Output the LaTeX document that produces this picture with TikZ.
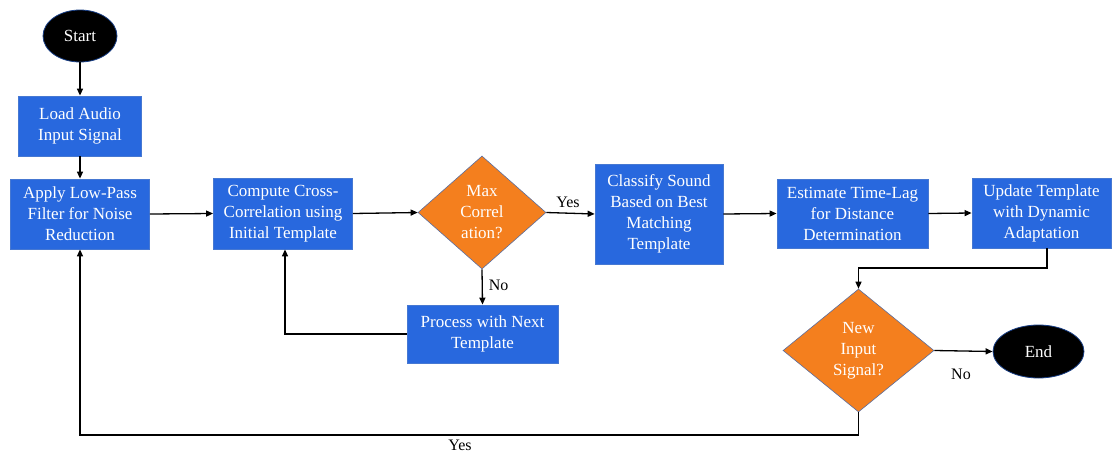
\documentclass[tikz,border=0pt]{standalone}
\usepackage{fontspec}
\setmainfont{Liberation Serif}
\usetikzlibrary{shapes.geometric,arrows.meta}
\definecolor{boxblue}{RGB}{40,104,222}
\definecolor{boxedge}{RGB}{70,120,210}
\definecolor{decor}{RGB}{244,127,30}
\definecolor{decedge}{RGB}{90,110,160}
\tikzset{
  txt/.style={font=\fontsize{17}{21}\selectfont, text=white, align=center, inner sep=0pt},
  procbox/.style={txt, rectangle, fill=boxblue, draw=boxedge, line width=0.8pt},
  decbox/.style={txt, diamond, fill=decor, draw=decedge, line width=0.6pt},
  termbox/.style={txt, ellipse, fill=black, draw=boxblue!60!black, line width=0.8pt},
  conn/.style={line width=1.3pt, -{Triangle[length=7pt,width=6pt]}},
  lbl/.style={font=\fontsize{16}{19}\selectfont, text=black, inner sep=0pt}
}
\begin{document}
\begin{tikzpicture}[x=1pt,y=-1pt]
\useasboundingbox (0,0) rectangle (1112,453);
\node[termbox, minimum width=74pt, minimum height=52pt] (start) at (80,36) {Start};
\node[procbox, minimum width=123pt, minimum height=60pt] (load) at (80,126) {Load Audio\\Input Signal};
\node[procbox, minimum width=139pt, minimum height=70pt] (filter) at (80,214) {Apply Low-Pass\\Filter for Noise\\Reduction};
\node[procbox, minimum width=139pt, minimum height=71pt] (xcorr) at (283,213.5) {Compute Cross-\\Correlation using\\Initial Template};
\node[decbox, minimum width=128pt, minimum height=113pt] (maxc) at (482,212.5) {Max\\Correl\\ation?};
\node[procbox, minimum width=128pt, minimum height=100pt] (classify) at (659,214) {Classify Sound\\Based on Best\\Matching\\Template};
\node[procbox, minimum width=151pt, minimum height=58pt] (next) at (482.5,334) {Process with Next\\Template};
\node[procbox, minimum width=151pt, minimum height=69pt] (lag) at (852.5,213.5) {Estimate Time-Lag\\for Distance\\Determination};
\node[procbox, minimum width=139pt, minimum height=70pt] (update) at (1041.5,213) {Update Template\\with Dynamic\\Adaptation};
\node[decbox, minimum width=151pt, minimum height=123pt] (newin) at (858.5,350.5) {New\\Input\\Signal?};
\node[termbox, minimum width=91pt, minimum height=53pt] (end) at (1038.5,351.5) {End};

\coordinate (u1) at (1047,268);
\coordinate (u2) at (858.5,268);
\coordinate (p1) at (285,334);
\coordinate (y1) at (858.5,435);
\coordinate (y2) at (80,435);

\draw[conn] (start) -- (load);
\draw[conn] (load) -- (filter);
\draw[conn] (filter.east) -- (xcorr.west);
\draw[conn] (xcorr.east) -- (maxc.west);
\draw[conn] (maxc.east) -- node[lbl, above=5pt, pos=0.45] (yes1) {Yes} (classify.west);
\draw[conn] (maxc.south) -- node[lbl, right=6pt, pos=0.45] (no1) {No} (next.north);
\draw[conn] (next.west) -- (p1) -- (xcorr.south -| p1);
\draw[conn] (classify.east) -- (lag.west);
\draw[conn] (lag.east) -- (update.west);
\draw[conn] (update.south -| u1) -- (u1) -- (u2) -- (newin.north);
\draw[conn] (newin.east) -- (end.west);
\node[lbl] (no2) at (961,374) {No};
\draw[conn] (newin.south) -- (y1) -- (y2) -- (filter.south);
\node[lbl] (yes2) at (460,445) {Yes};
\end{tikzpicture}
\end{document}
